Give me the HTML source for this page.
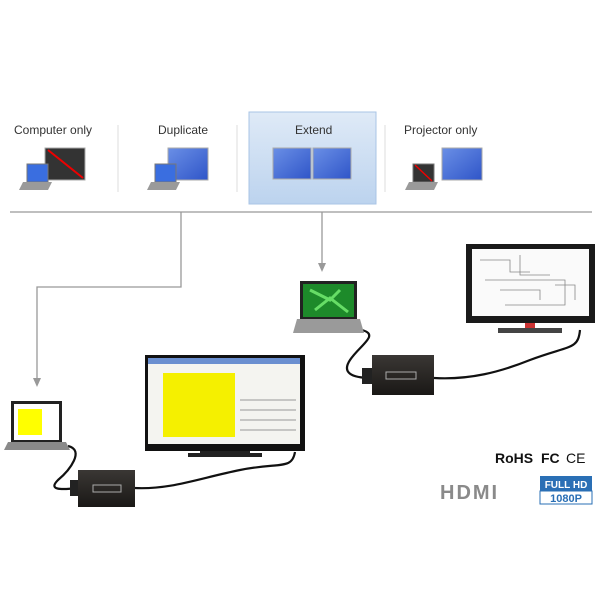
<!DOCTYPE html><html><head><style>body{margin:0;background:#fff}svg{display:block}text{font-family:"Liberation Sans",sans-serif}</style></head><body>
<svg width="600" height="600" viewBox="0 0 600 600" xmlns="http://www.w3.org/2000/svg">
<defs>
<linearGradient id="ext" x1="0" y1="0" x2="0" y2="1"><stop offset="0" stop-color="#dfeaf7"/><stop offset="1" stop-color="#bcd3ee"/></linearGradient>
<linearGradient id="blu" x1="0" y1="0" x2="1" y2="1"><stop offset="0" stop-color="#6a8fe6"/><stop offset="1" stop-color="#2f55c8"/></linearGradient>
<linearGradient id="box" x1="0" y1="0" x2="0" y2="1"><stop offset="0" stop-color="#3a3734"/><stop offset="1" stop-color="#1a1816"/></linearGradient>
</defs>
<rect x="249" y="112" width="127" height="92" fill="url(#ext)" stroke="#a9c4e6"/>
<g fill="#333" font-size="12">
<text x="14" y="134">Computer only</text><text x="158" y="134">Duplicate</text><text x="295" y="134">Extend</text><text x="404" y="134">Projector only</text></g>
<g stroke="#ddd"><line x1="118" y1="125" x2="118" y2="192"/><line x1="237" y1="125" x2="237" y2="192"/><line x1="385" y1="125" x2="385" y2="192"/></g>
<!-- icons -->
<rect x="45" y="148" width="40" height="32" fill="#333" stroke="#aaa"/><line x1="48" y1="150" x2="83" y2="178" stroke="#e00" stroke-width="2"/>
<g id="lap"><polygon points="27,164 48,164 48,182 27,182" fill="#3a6ee0" stroke="#777"/><polygon points="23,182 52,182 48,190 19,190" fill="#9a9a9a"/></g>
<rect x="168" y="148" width="40" height="32" fill="url(#blu)" stroke="#aaa"/>
<use href="#lap" x="128"/>
<rect x="273" y="148" width="38" height="31" fill="url(#blu)" stroke="#aaa"/><rect x="313" y="148" width="38" height="31" fill="url(#blu)" stroke="#aaa"/>
<rect x="442" y="148" width="40" height="32" fill="url(#blu)" stroke="#aaa"/>
<polygon points="413,164 434,164 434,182 413,182" fill="#333" stroke="#777"/><line x1="415" y1="165" x2="432" y2="181" stroke="#e00" stroke-width="1.5"/><polygon points="409,182 438,182 434,190 405,190" fill="#9a9a9a"/>
<!-- lines -->
<g stroke="#999" fill="none" stroke-width="1.3"><line x1="10" y1="212" x2="592" y2="212"/><polyline points="181,212 181,287 37,287 37,380"/><line x1="322" y1="212" x2="322" y2="265"/></g>
<polygon points="33,378 41,378 37,387" fill="#999"/><polygon points="318,263 326,263 322,272" fill="#999"/>
<!-- cables -->
<g stroke="#111" stroke-width="2.2" fill="none">
<path d="M68,446 C85,450 70,470 58,480 C48,490 60,490 78,488"/>
<path d="M134,488 C170,490 200,478 240,470 C280,462 292,470 295,452"/>
<path d="M362,330 C380,335 360,345 350,360 C342,372 350,378 372,378"/>
<path d="M434,378 C470,380 500,372 530,360 C570,345 578,350 580,330"/>
</g>
<!-- bottom-left laptop -->
<rect x="11" y="401" width="51" height="41" fill="#222"/><rect x="14" y="404" width="45" height="36" fill="#fff"/><rect x="18" y="409" width="24" height="26" fill="#ff0"/>
<polygon points="8,442 66,442 70,450 4,450" fill="#8a8a8a"/>
<!-- middle monitor -->
<rect x="145" y="355" width="160" height="96" fill="#111"/><rect x="148" y="358" width="152" height="86" fill="#f4f4f0"/><rect x="148" y="358" width="152" height="6" fill="#6a8fd0"/>
<rect x="163" y="373" width="72" height="64" fill="#f5f000"/>
<g stroke="#999" stroke-width="1"><line x1="240" y1="400" x2="296" y2="400"/><line x1="240" y1="410" x2="296" y2="410"/><line x1="240" y1="420" x2="296" y2="420"/><line x1="240" y1="430" x2="296" y2="430"/></g>
<rect x="200" y="451" width="50" height="2" fill="#222"/><rect x="188" y="453" width="74" height="4" fill="#222"/>
<!-- box bottom -->
<rect x="70" y="480" width="10" height="16" fill="#222"/><rect x="78" y="470" width="57" height="37" fill="url(#box)"/><rect x="93" y="485" width="28" height="7" fill="none" stroke="#aaa"/>
<!-- top laptop -->
<rect x="300" y="281" width="57" height="38" fill="#222"/><rect x="303" y="284" width="51" height="33" fill="#1d8a2a"/>
<path d="M310,290 L330,300 L340,290 M315,310 L330,298 L348,312" stroke="#6d6" stroke-width="3" fill="none"/>
<polygon points="297,319 360,319 364,333 293,333" fill="#9a9a9a"/>
<!-- box mid -->
<rect x="362" y="368" width="12" height="16" fill="#222"/><rect x="372" y="355" width="62" height="40" fill="url(#box)"/><rect x="386" y="372" width="30" height="7" fill="none" stroke="#aaa"/>
<!-- tv -->
<rect x="466" y="244" width="129" height="79" fill="#1a1a1a"/><rect x="472" y="249" width="117" height="67" fill="#fafafa"/>
<g stroke="#888" fill="none" stroke-width="0.8"><path d="M480,260 h30 v12 h20 M520,255 v20 h30 M485,280 h80 v25 h-60 M500,290 h40 v10 M555,285 h20 v15"/></g>
<rect x="525" y="323" width="10" height="5" fill="#c33"/><rect x="498" y="328" width="64" height="5" fill="#444"/>
<!-- logos -->
<text x="495" y="463" font-size="14" font-weight="bold" fill="#111">RoHS</text>
<text x="541" y="463" font-size="14" font-weight="bold" fill="#111">FC</text>
<text x="566" y="463" font-size="14" fill="#111">CE</text>
<text x="440" y="499" font-size="20" font-weight="bold" fill="#8a8a8a" letter-spacing="2">HDMI</text>
<rect x="540" y="476" width="52" height="15" fill="#2a6fb5"/>
<text x="566" y="488" font-size="10" font-weight="bold" fill="#fff" text-anchor="middle">FULL HD</text>
<rect x="540" y="491" width="52" height="13" fill="#fff" stroke="#2a6fb5"/>
<text x="566" y="502" font-size="11" font-weight="bold" fill="#2a6fb5" text-anchor="middle">1080P</text>
</svg></body></html>
